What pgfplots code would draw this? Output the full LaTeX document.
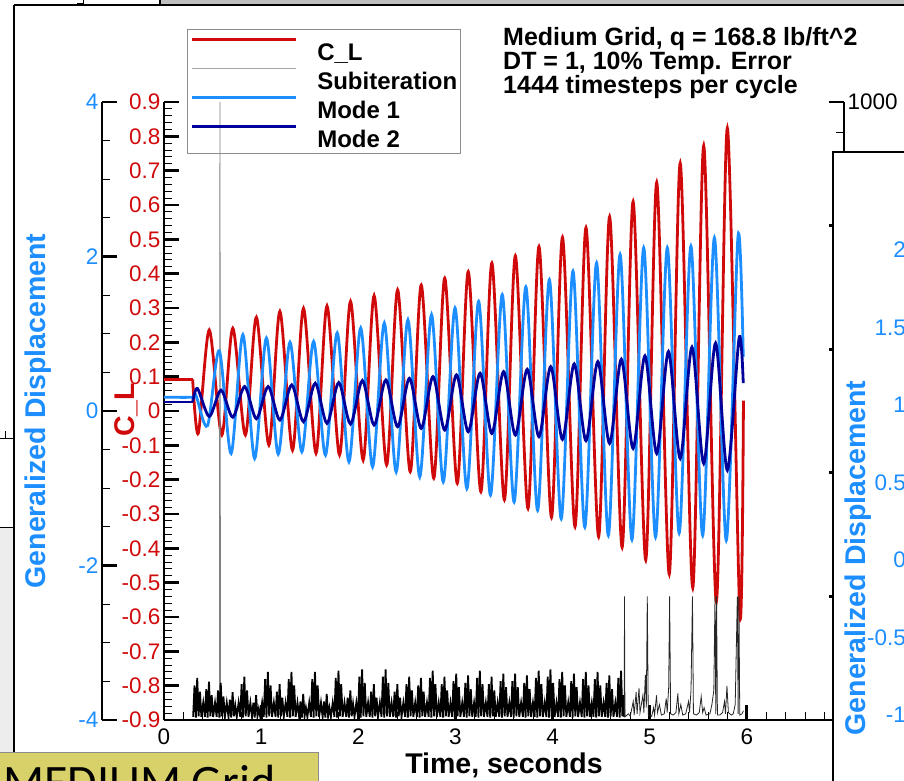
\documentclass[border=0pt]{standalone}
\usepackage{pgfplots}
\pgfplotsset{compat=1.18}
\usepackage{fontspec}
\setmainfont{Liberation Sans}
\newfontfamily\carlito{Carlito}
\definecolor{clred}{RGB}{208,10,10}
\definecolor{mblue}{RGB}{28,142,255}
\definecolor{mnavy}{RGB}{0,0,155}
\definecolor{yel}{RGB}{216,208,104}
\newcommand{\tl}{\fontsize{22.5}{22.5}\selectfont}
\newcommand{\al}{\bfseries\fontsize{28.5}{28.5}\selectfont}
\pgfplotsset{
  thickaxes/.style={
    axis line style={line width=2.8pt, -},
    every outer x axis line/.append style={line width=2.8pt, -},
    every outer y axis line/.append style={line width=2.8pt, -},
    every inner x axis line/.append style={line width=2.8pt, -},
    every inner y axis line/.append style={line width=2.8pt, -},
    major tick length=15pt, minor tick length=8pt,
    tick style={line width=2.8pt, black},
    every major tick/.append style={line width=2.8pt, black},
    every minor tick/.append style={line width=0.9pt, black},
    tick align=inside},
  base/.style={scale only axis, width=680pt, height=618pt, anchor=south west, at={(164pt,60pt)},
    xmin=0, xmax=7, /pgf/number format/assume math mode=true,
    tick label style={font=\tl}, thickaxes},
}
\begin{document}
\begin{tikzpicture}
\path[use as bounding box] (0,0) rectangle (904pt,780pt);
\clip (0,0) rectangle (904pt,780pt);
% ---------------- C_L axis ----------------
\begin{axis}[base, ymin=-0.9, ymax=0.9,
  axis x line*=bottom, axis y line*=left,
  xtick={0,1,2,3,4,5,6,7}, xticklabels={0,1,2,3,4,5,6,7}, minor x tick num=4,
  xticklabel style={yshift=-5pt},
  ytick={-0.9,-0.8,-0.7,-0.6,-0.5,-0.4,-0.3,-0.2,-0.1,0,0.1,0.2,0.3,0.4,0.5,0.6,0.7,0.8,0.9},
  yticklabels={-0.9,-0.8,-0.7,-0.6,-0.5,-0.4,-0.3,-0.2,-0.1,0,0.1,0.2,0.3,0.4,0.5,0.6,0.7,0.8,0.9},
  minor y tick num=4,
  yticklabel style={text=clred},
  xlabel={Time, seconds},
  every axis x label/.style={at={(axis description cs:0.5,0)}, anchor=north, yshift=-33pt, inner sep=0pt, font=\al},
  ylabel={C\_L},
  every axis y label/.style={at={(axis description cs:-0.0559,0.5016)}, rotate=90, anchor=center, font=\al, text=clred},
]
\addplot[clred, line width=2.8pt, forget plot] coordinates {(0,0.092) (0.295,0.092)};
\addplot[clred, line width=2.8pt, smooth] coordinates {
(0.295,0.092) (0.353,-0.065) (0.466,0.236) (0.595,-0.07) (0.708,0.241) (0.838,-0.07) (0.951,0.273)
(1.080,-0.099) (1.193,0.290) (1.323,-0.114) (1.436,0.299) (1.565,-0.123) (1.678,0.306) (1.807,-0.128)
(1.920,0.319) (2.050,-0.143) (2.163,0.336) (2.292,-0.157) (2.405,0.353) (2.535,-0.177) (2.648,0.367)
(2.777,-0.196) (2.890,0.387) (3.019,-0.211) (3.132,0.406) (3.262,-0.235) (3.375,0.431) (3.504,-0.259)
(3.617,0.452) (3.747,-0.284) (3.860,0.479) (3.989,-0.310) (4.102,0.506) (4.231,-0.337) (4.344,0.534)
(4.474,-0.366) (4.587,0.566) (4.716,-0.397) (4.829,0.610) (4.959,-0.434) (5.072,0.666) (5.201,-0.475)
(5.314,0.722) (5.443,-0.515) (5.556,0.773) (5.686,-0.555) (5.799,0.824) (5.928,-0.595) (5.965,0.03)};
\end{axis}
% ---------------- Subiteration axis ----------------
\begin{axis}[base, ymin=0, ymax=1000, axis x line=none, axis y line*=right,
  ytick={0,200,400,600,800,1000}, yticklabels={0,200,400,600,800,1000}, minor y tick num=3]
\addplot[black!50, line width=0.8pt] coordinates {
(0.570,4)(0.576,1000)(0.582,5)};
\addplot[black, line width=1.8pt] coordinates {
(0.300,5)(0.314,56)(0.328,4)(0.342,68)(0.356,6)(0.370,46)(0.385,5)(0.404,28)
(0.421,5)(0.435,50)(0.449,4)(0.463,62)(0.477,6)(0.491,40)(0.506,5)(0.525,28)
(0.542,5)(0.556,48)(0.570,4)(0.584,60)(0.598,6)(0.612,38)(0.627,5)(0.646,28)
(0.664,5)(0.678,33)(0.692,4)(0.706,45)(0.720,6)(0.734,23)(0.749,5)(0.768,28)
(0.785,5)(0.799,58)(0.813,4)(0.827,70)(0.841,6)(0.855,48)(0.870,5)(0.889,28)
(0.906,5)(0.920,28)(0.934,4)(0.948,40)(0.962,6)(0.976,18)(0.991,5)(1.010,28)
(1.027,5)(1.041,66)(1.055,4)(1.069,78)(1.083,6)(1.097,56)(1.112,5)(1.131,28)
(1.148,5)(1.162,46)(1.176,4)(1.190,58)(1.204,6)(1.218,36)(1.233,5)(1.252,28)
(1.270,5)(1.284,66)(1.298,4)(1.312,78)(1.326,6)(1.340,56)(1.355,5)(1.374,28)
(1.391,5)(1.405,30)(1.419,4)(1.433,42)(1.447,6)(1.461,20)(1.476,5)(1.495,28)
(1.512,5)(1.526,66)(1.540,4)(1.554,78)(1.568,6)(1.582,56)(1.597,5)(1.616,28)
(1.633,5)(1.647,30)(1.661,4)(1.675,42)(1.689,6)(1.703,20)(1.718,5)(1.737,28)
(1.754,5)(1.768,68)(1.782,4)(1.796,80)(1.810,6)(1.824,58)(1.839,5)(1.858,28)
(1.876,5)(1.890,36)(1.904,4)(1.918,48)(1.932,6)(1.946,26)(1.961,5)(1.980,28)
(1.997,5)(2.011,70)(2.025,4)(2.039,82)(2.053,6)(2.067,60)(2.082,5)(2.101,28)
(2.118,5)(2.132,46)(2.146,4)(2.160,58)(2.174,6)(2.188,36)(2.203,5)(2.222,28)
(2.239,5)(2.253,70)(2.267,4)(2.281,82)(2.295,6)(2.309,60)(2.324,5)(2.343,28)
(2.360,5)(2.374,46)(2.388,4)(2.402,58)(2.416,6)(2.430,36)(2.445,5)(2.464,28)
(2.482,5)(2.496,58)(2.510,4)(2.524,70)(2.538,6)(2.552,48)(2.567,5)(2.586,28)
(2.603,5)(2.617,56)(2.631,4)(2.645,68)(2.659,6)(2.673,46)(2.688,5)(2.707,28)
(2.724,5)(2.738,68)(2.752,4)(2.766,80)(2.780,6)(2.794,58)(2.809,5)(2.828,28)
(2.845,5)(2.859,58)(2.873,4)(2.887,70)(2.901,6)(2.915,48)(2.930,5)(2.949,28)
(2.966,5)(2.980,63)(2.994,4)(3.008,75)(3.022,6)(3.036,53)(3.051,5)(3.070,28)
(3.088,5)(3.102,60)(3.116,4)(3.130,72)(3.144,6)(3.158,50)(3.173,5)(3.192,28)
(3.209,5)(3.223,68)(3.237,4)(3.251,80)(3.265,6)(3.279,58)(3.294,5)(3.313,28)
(3.330,5)(3.344,58)(3.358,4)(3.372,70)(3.386,6)(3.400,48)(3.415,5)(3.434,28)
(3.451,5)(3.465,63)(3.479,4)(3.493,75)(3.507,6)(3.521,53)(3.536,5)(3.555,28)
(3.572,5)(3.586,63)(3.600,4)(3.614,75)(3.628,6)(3.642,53)(3.657,5)(3.676,28)
(3.694,5)(3.708,60)(3.722,4)(3.736,72)(3.750,6)(3.764,50)(3.779,5)(3.798,28)
(3.815,5)(3.829,68)(3.843,4)(3.857,80)(3.871,6)(3.885,58)(3.900,5)(3.919,28)
(3.936,5)(3.950,70)(3.964,4)(3.978,82)(3.992,6)(4.006,60)(4.021,5)(4.040,28)
(4.057,5)(4.071,66)(4.085,4)(4.099,78)(4.113,6)(4.127,56)(4.142,5)(4.161,28)
(4.178,5)(4.192,63)(4.206,4)(4.220,75)(4.234,6)(4.248,53)(4.263,5)(4.282,28)
(4.300,5)(4.314,66)(4.328,4)(4.342,78)(4.356,6)(4.370,56)(4.385,5)(4.404,28)
(4.421,5)(4.435,66)(4.449,4)(4.463,78)(4.477,6)(4.491,56)(4.506,5)(4.525,28)
(4.542,5)(4.556,60)(4.570,4)(4.584,72)(4.598,6)(4.612,50)(4.627,5)(4.646,28)
(4.663,5)(4.677,68)(4.691,4)(4.705,80)(4.719,6)(4.733,40)(4.738,5)};
\addplot[black!85, line width=0.8pt] coordinates {
(4.738,5)(4.740,200)(4.745,5)(4.780,10)(4.800,6)(4.830,30)(4.840,8)(4.860,45)(4.870,10)(4.890,52)(4.900,12)
(4.930,40)(4.940,12)(4.955,73)(4.965,20)(4.975,200)(4.985,8)(5.020,6)(5.040,20)(5.050,8)(5.070,40)
(5.080,12)(5.100,25)(5.120,8)(5.150,10)(5.170,35)(5.180,12)(5.195,52)(5.205,200)(5.215,10)(5.240,8)
(5.270,12)(5.290,43)(5.300,10)(5.320,25)(5.340,8)(5.370,10)(5.400,30)(5.410,12)(5.425,48)(5.440,200)
(5.450,10)(5.480,8)(5.510,12)(5.530,38)(5.545,12)(5.560,20)(5.580,8)(5.620,10)(5.640,25)(5.660,48)
(5.672,200)(5.680,10)(5.688,200)(5.697,8)(5.720,8)(5.750,12)(5.770,30)(5.780,10)(5.795,55)(5.810,12)
(5.840,8)(5.860,10)(5.880,25)(5.902,200)(5.910,10)(5.918,200)(5.927,8)(5.950,10)(5.965,15)};
\end{axis}
% ---------------- Displacement axis (scale) ----------------
\begin{axis}[scale only axis, width=62pt, height=618pt, anchor=south west, at={(102pt,60pt)},
  xmin=0, xmax=1, ymin=-4, ymax=4, axis x line=none, axis y line*=left,
  /pgf/number format/assume math mode=true,
  tick label style={font=\tl}, thickaxes,
  ytick={-4,-2,0,2,4}, yticklabels={-4,-2,0,2,4}, minor y tick num=3,
  yticklabel style={text=mblue},
  ylabel={Generalized Displacement},
  every axis y label/.style={at={(axis description cs:-1.032,0.5)}, rotate=90, anchor=center, font=\al, text=mblue},
]
\end{axis}
% ---------------- Modes ----------------
\begin{axis}[base, ymin=-4, ymax=4, hide axis,
  legend style={at={(axis description cs:0.0338,1.1181)}, anchor=north west, draw=black!45, line width=1pt,
    fill=none, inner xsep=3pt, inner ysep=6pt, row sep=4pt, column sep=20pt,
    font=\bfseries\fontsize{24}{24}\selectfont,
    nodes={inner sep=0pt, text height=25pt, text depth=0pt}},
  legend cell align=left,
  legend image code/.code={\draw[#1] (0pt,8.5pt) -- (104pt,8.5pt);},
]
\addlegendimage{clred, line width=2.8pt}
\addlegendentry{C\_L}
\addlegendimage{black!35, line width=1pt}
\addlegendentry{Subiteration}
\addplot[mblue, line width=2.8pt, smooth] coordinates {
(0,0.178) (0.295,0.178) (0.33,0.20) (0.448,-0.19) (0.569,0.78) (0.691,-0.55) (0.812,0.987) (0.933,-0.614)
(1.054,0.944) (1.176,-0.558) (1.297,0.89) (1.419,-0.528) (1.540,0.90) (1.662,-0.571) (1.783,1.01)
(1.904,-0.658) (2.025,1.074) (2.147,-0.723) (2.268,1.139) (2.390,-0.788) (2.511,1.18) (2.633,-0.853)
(2.754,1.247) (2.875,-0.918) (2.996,1.334) (3.118,-1.004) (3.239,1.42) (3.361,-1.09) (3.482,1.506)
(3.604,-1.178) (3.725,1.606) (3.846,-1.286) (3.967,1.70) (4.089,-1.394) (4.210,1.81) (4.332,-1.503)
(4.453,1.918) (4.574,-1.61) (4.695,2.026) (4.817,-1.666) (4.938,2.113) (5.060,-1.632) (5.181,2.113)
(5.303,-1.58) (5.424,2.134) (5.545,-1.61) (5.666,2.243) (5.788,-1.675) (5.909,2.264) (5.963,0.70)};
\addlegendentry{Mode 1}
\addplot[mnavy, line width=2.8pt, forget plot] coordinates {(0,0.117) (0.295,0.117)};
\addplot[mnavy, line width=2.8pt, smooth] coordinates {
(0.295,0.117) (0.345,0.29) (0.466,-0.07) (0.587,0.27) (0.708,-0.08) (0.830,0.316) (0.951,-0.10)
(1.072,0.316) (1.193,-0.117) (1.315,0.338) (1.436,-0.139) (1.557,0.36) (1.678,-0.16) (1.799,0.368)
(1.920,-0.169) (2.042,0.394) (2.163,-0.182) (2.284,0.403) (2.405,-0.204) (2.527,0.424) (2.648,-0.225)
(2.769,0.446) (2.890,-0.247) (3.011,0.468) (3.132,-0.269) (3.254,0.49) (3.375,-0.29) (3.496,0.51)
(3.617,-0.312) (3.739,0.54) (3.860,-0.333) (3.981,0.575) (4.102,-0.368) (4.223,0.61) (4.344,-0.385)
(4.466,0.64) (4.587,-0.42) (4.708,0.671) (4.829,-0.485) (4.951,0.714) (5.072,-0.55) (5.193,0.77)
(5.314,-0.615) (5.435,0.827) (5.556,-0.68) (5.678,0.879) (5.799,-0.766) (5.920,0.944) (5.963,0.36)};
\addlegendentry{Mode 2}
\end{axis}
% ---------------- title text ----------------
\node[anchor=north west, align=left, inner sep=0pt, font=\bfseries\fontsize{25}{24}\selectfont]
  at (503pt,753pt) {Medium Grid, q = 168.8 lb/ft\textasciicircum 2\\DT = 1, 10\% Temp. Error\\1444 timesteps per cycle};
% ---------------- surrounding screenshot pieces ----------------
\fill[black!25] (160pt,775pt) rectangle (904pt,780pt);
\draw[line width=1.4pt] (14pt,775pt) -- (904pt,775pt);
\draw[line width=1.2pt] (160pt,780pt) -- (160pt,775pt);
\draw[line width=1pt] (83pt,780pt) -- (83pt,776pt) -- (77pt,776pt);
\fill[black!7] (0pt,28pt) rectangle (14pt,253pt);
\draw[line width=1pt] (0pt,253pt) -- (14pt,253pt);
\draw[line width=1pt] (0pt,342pt) -- (14pt,342pt);
\draw[line width=0.8pt] (5pt,342pt) -- (5pt,349pt);
\draw[line width=1.4pt] (14pt,775pt) -- (14pt,28pt);
\filldraw[fill=yel, draw=black!45, line width=1pt] (-5pt,-10pt) rectangle (318pt,28pt);
\node[anchor=base west, inner sep=0pt, font=\carlito\fontsize{48}{48}\selectfont] at (3pt,-18pt) {MEDIUM Grid};
\filldraw[fill=white, draw=black, line width=1.2pt] (833pt,-10pt) rectangle (915pt,628pt);
\foreach \yy/\lab in {530/2, 452/1.5, 375/1, 297/0.5, 220/0, 142/-0.5, 65/-1}
  \node[anchor=east, inner sep=0pt, font=\tl, text=mblue] at (906pt,\yy pt) {\lab};
\node[rotate=90, inner sep=0pt, font=\al, text=mblue] at (858pt,222pt) {Generalized Displacement};
\end{tikzpicture}
\end{document}
